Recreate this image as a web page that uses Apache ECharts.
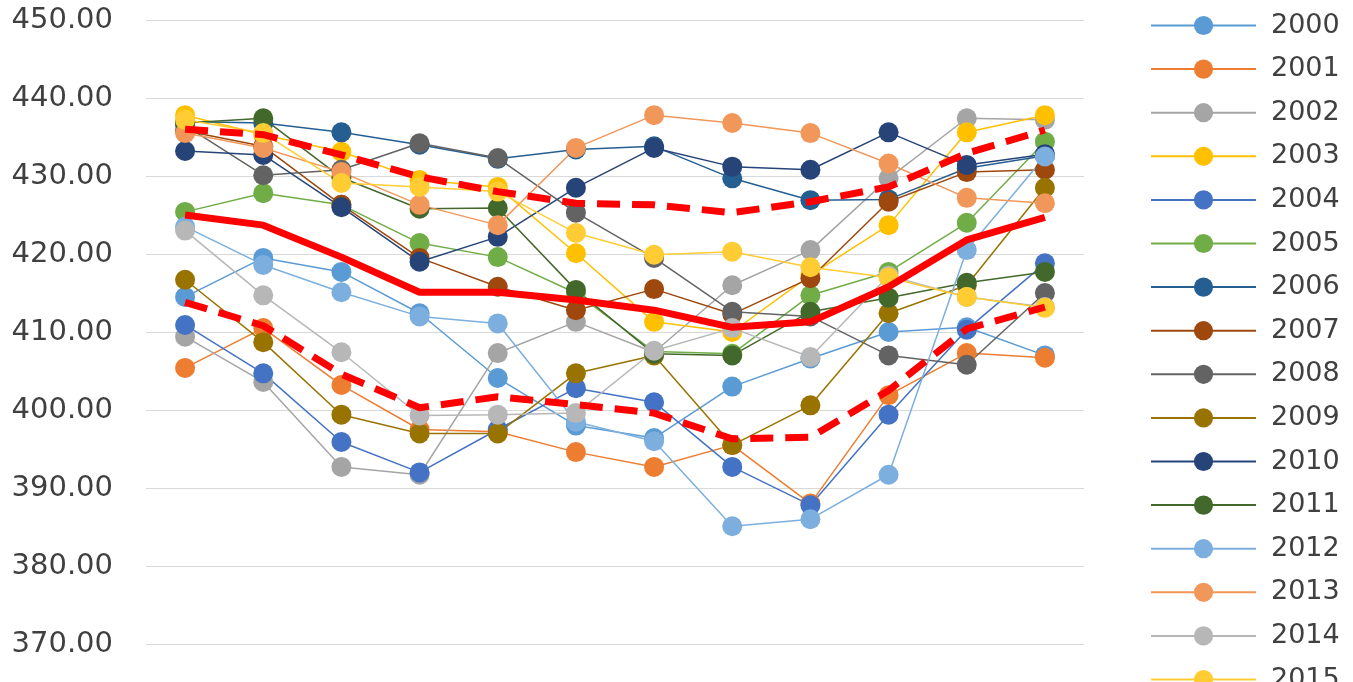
<!DOCTYPE html>
<html>
<head>
<meta charset="utf-8">
<script src="https://cdn.jsdelivr.net/npm/echarts@6/dist/echarts.min.js"></script>
<style>
html,body{margin:0;padding:0;overflow:hidden;background:#fff;}
#main{width:1353px;height:760px;}
</style>
</head>
<body>
<div id="main"></div>
<script>
const categories = ['1','2','3','4','5','6','7','8','9','10','11','12'];
const yearNames = ['2000','2001','2002','2003','2004','2005','2006','2007','2008','2009','2010','2011','2012','2013','2014','2015'];
const y2000 = [414.5, 419.5, 417.7, 412.4, 404.1, 398.0, 396.4, 403.0, 406.6, 410.0, 410.6, 407.0];
const y2001 = [405.4, 410.5, 403.2, 397.5, 397.2, 394.6, 392.7, 395.5, 388.0, 401.9, 407.3, 406.7];
const y2002 = [409.4, 403.6, 392.7, 391.7, 407.3, 411.3, 407.4, 416.0, 420.5, 429.7, 437.4, 437.2];
const y2003 = [437.8, 435.3, 433.1, 429.5, 428.6, 420.1, 411.3, 410.0, 417.3, 423.7, 435.6, 437.8];
const y2004 = [410.9, 404.7, 395.9, 392.0, 397.5, 402.8, 401.0, 392.7, 387.8, 399.4, 410.3, 418.8];
const y2005 = [425.4, 427.8, 426.3, 421.4, 419.6, 415.0, 407.5, 407.2, 414.7, 417.7, 424.0, 434.4];
const y2006 = [437.0, 436.8, 435.6, 434.0, 432.2, 433.4, 433.8, 429.7, 426.9, 427.0, 431.0, 432.6];
const y2007 = [435.8, 433.8, 426.3, 419.5, 415.8, 412.8, 415.5, 412.3, 416.9, 426.7, 430.5, 430.8];
const y2008 = [436.5, 430.1, 430.8, 434.2, 432.3, 425.3, 419.5, 412.6, 412.0, 407.0, 405.8, 415.0];
const y2009 = [416.7, 408.7, 399.4, 397.0, 397.0, 404.7, 407.0, 395.5, 400.6, 412.4, 416.0, 428.5];
const y2010 = [433.2, 432.7, 426.0, 419.0, 422.2, 428.5, 433.6, 431.2, 430.8, 435.6, 431.4, 432.8];
const y2011 = [436.8, 437.4, 429.8, 425.8, 425.9, 415.4, 407.2, 407.0, 412.6, 414.4, 416.3, 417.7];
const y2012 = [423.5, 418.6, 415.1, 412.0, 411.1, 398.5, 396.0, 385.1, 386.0, 391.7, 420.5, 432.5];
const y2013 = [435.5, 433.6, 430.5, 426.3, 423.7, 433.6, 437.8, 436.8, 435.5, 431.6, 427.2, 426.5];
const y2014 = [423.0, 414.7, 407.4, 399.3, 399.4, 399.6, 407.6, 410.5, 406.8, 417.2, 414.5, 413.2];
const y2015 = [437.2, 435.5, 429.1, 428.6, 428.0, 422.7, 419.9, 420.3, 418.3, 417.0, 414.5, 413.1];
const meanVals  = [425.0, 423.7, 419.6, 415.1, 415.1, 414.1, 412.8, 410.6, 411.3, 415.8, 421.8, 424.7];
const upperVals = [436.0, 435.3, 432.7, 429.9, 428.0, 426.5, 426.3, 425.3, 426.7, 428.6, 432.9, 435.9];
const lowerVals = [413.8, 410.8, 404.6, 400.3, 401.7, 400.7, 399.6, 396.3, 396.5, 402.5, 410.4, 413.2];

const yearData = [y2000,y2001,y2002,y2003,y2004,y2005,y2006,y2007,y2008,y2009,y2010,y2011,y2012,y2013,y2014,y2015];
const colors = ['#5B9BD5','#ED7D31','#A5A5A5','#FFC000','#4472C4','#70AD47','#255E91','#9E480E','#636363','#997300','#264478','#43682B','#7CAFDD','#F1975A','#B7B7B7','#FFCD33'];

const series = yearNames.map((n,i)=>({
  name:n, type:'line', data:yearData[i],
  symbol:'circle', symbolSize:20,
  itemStyle:{color:colors[i]},
  lineStyle:{color:colors[i], width:1.5},
  emphasis:{disabled:true}
}));
const red = '#FF0000';
series.push({name:'mean', type:'line', data:meanVals, symbol:'none', lineStyle:{color:red,width:7}, emphasis:{disabled:true}, z:5});
series.push({name:'upper', type:'line', data:upperVals, symbol:'none', lineStyle:{color:red,width:7,type:[23,12]}, emphasis:{disabled:true}, z:5});
series.push({name:'lower', type:'line', data:lowerVals, symbol:'none', lineStyle:{color:red,width:7,type:[23,12]}, emphasis:{disabled:true}, z:5});

const chart = echarts.init(document.getElementById('main'));
chart.setOption({
  animation:false,
  backgroundColor:'#fff',
  grid:{left:146, right:269, top:20, bottom:38},
  xAxis:{type:'category', data:categories, boundaryGap:true,
    axisLine:{lineStyle:{color:'#d9d9d9'}}, axisTick:{show:false},
    axisLabel:{fontFamily:'DejaVu Sans', fontSize:24, color:'#404040'}},
  yAxis:{type:'value', min:360, max:450, interval:10,
    axisLine:{show:false}, axisTick:{show:false},
    splitLine:{lineStyle:{color:'#d9d9d9', width:1}},
    axisLabel:{formatter:v=>v.toFixed(2), fontFamily:'DejaVu Sans', fontSize:29, color:'#404040', margin:33}},
  legend:{orient:'vertical', left:1145, top:7, data:yearNames,
    itemWidth:105, itemHeight:24, itemGap:16.6,
    textStyle:{fontFamily:'DejaVu Sans', fontSize:27, color:'#404040', lineHeight:24, padding:[0,0,0,10]}},
  series:series
});
</script>
</body>
</html>
